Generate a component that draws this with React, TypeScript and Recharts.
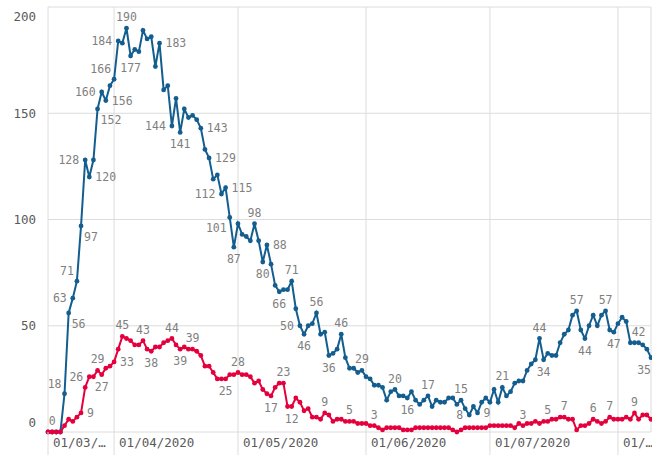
import React from 'react';
import { LineChart, Line, XAxis, YAxis, CartesianGrid } from 'recharts';

// daily series, first day 16/03/2020
const START_DAY = Date.UTC(2020, 2, 16);

const hospitalised = [
  0, 0, 0, 0,
  18, 56, 63, 71, 97, 128, 120, 128, 152, 160, 156, 163,
  166, 184, 183, 190, 177, 180, 179, 189, 185, 186,
  172, 183, 161, 163, 144, 157, 141, 152, 148, 149,
  147, 143, 133, 129, 119, 121, 112, 115, 101, 87,
  98, 93, 92, 90, 98, 90, 80, 88, 79, 69,
  66, 67, 67, 71, 58, 50, 46, 50, 51, 56,
  46, 47, 36, 37, 39, 46, 35, 30, 30, 28,
  29, 26, 25, 22, 22, 21, 15, 19, 20, 17,
  17, 16, 19, 15, 13, 15, 17, 12, 15, 14,
  14, 16, 16, 13, 15, 11, 8, 12, 9, 14,
  16, 14, 20, 14, 21, 17, 19, 23, 24, 24,
  29, 32, 34, 44, 34, 37, 36, 36, 42, 46,
  48, 55, 57, 48, 44, 50, 55, 50, 55, 57,
  48, 47, 51, 54, 52, 42, 42, 42, 41, 39,
  35,
];

const deaths = [
  0, 0, 0, 0,
  3, 6, 5, 7, 9, 21, 26, 26, 29, 27, 30, 31,
  33, 39, 45, 44, 43, 41, 41, 43, 39, 38,
  40, 40, 42, 43, 44, 41, 39, 40, 39, 39,
  38, 36, 31, 31, 28, 25, 25, 25, 27, 27,
  28, 27, 27, 26, 23, 24, 20, 18, 17, 21,
  23, 23, 12, 12, 16, 14, 10, 11, 7, 7,
  6, 9, 8, 5, 6, 6, 5, 5, 5, 4,
  4, 4, 3, 3, 2, 1, 2, 2, 2, 2,
  1, 1, 1, 2, 2, 2, 2, 2, 2, 2,
  2, 2, 1, 0, 1, 2, 2, 2, 2, 2,
  2, 3, 3, 3, 3, 3, 3, 2, 4, 3,
  4, 4, 5, 4, 5, 5, 6, 6, 7, 7,
  6, 6, 1, 3, 3, 4, 6, 5, 4, 5,
  7, 6, 6, 6, 7, 6, 9, 6, 8, 8,
  6,
];

const Y_TICKS = [0, 50, 100, 150, 200];
const MONTH_TICKS = ['16/03/2020', '01/04/2020', '01/05/2020', '01/06/2020', '01/07/2020', '01/08/2020'];
const MONTH_LABELS = ['01/03/…', '01/04/2020', '01/05/2020', '01/06/2020', '01/07/2020', '01/…'];

// which points carry a value label, and where it sits
const hospitalisedLabels: Record<string, string> = {
  '20/03/2020': 'topleft', '21/03/2020': 'bottomright', '22/03/2020': 'left', '23/03/2020': 'topleft',
  '24/03/2020': 'bottomright', '25/03/2020': 'left', '26/03/2020': 'right', '28/03/2020': 'bottomright',
  '29/03/2020': 'left', '30/03/2020': 'right', '01/04/2020': 'topleft', '02/04/2020': 'left',
  '04/04/2020': 'top', '05/04/2020': 'bottom', '12/04/2020': 'right', '15/04/2020': 'left',
  '17/04/2020': 'bottom', '22/04/2020': 'right', '24/04/2020': 'right', '27/04/2020': 'left',
  '28/04/2020': 'right', '29/04/2020': 'bottomleft', '30/04/2020': 'bottom', '05/05/2020': 'top',
  '07/05/2020': 'bottom', '08/05/2020': 'right', '11/05/2020': 'bottom', '14/05/2020': 'top',
  '16/05/2020': 'left', '17/05/2020': 'bottom', '20/05/2020': 'top', '23/05/2020': 'bottom',
  '26/05/2020': 'top', '31/05/2020': 'top', '08/06/2020': 'top', '11/06/2020': 'bottom',
  '16/06/2020': 'top', '24/06/2020': 'top', '26/06/2020': 'left', '28/06/2020': 'right',
  '04/07/2020': 'top', '13/07/2020': 'top', '14/07/2020': 'bottom', '22/07/2020': 'top',
  '24/07/2020': 'bottom', '29/07/2020': 'top', '31/07/2020': 'bottom', '06/08/2020': 'top',
  '09/08/2020': 'bottomend',
};

const deathLabels: Record<string, string> = {
  '17/03/2020': 'top', '24/03/2020': 'right', '26/03/2020': 'left', '28/03/2020': 'top',
  '29/03/2020': 'bottom', '01/04/2020': 'right', '03/04/2020': 'top', '08/04/2020': 'top',
  '10/04/2020': 'bottom', '15/04/2020': 'top', '17/04/2020': 'bottom', '20/04/2020': 'top',
  '28/04/2020': 'bottom', '01/05/2020': 'top', '09/05/2020': 'bottom', '12/05/2020': 'top',
  '14/05/2020': 'bottom', '22/05/2020': 'top', '28/05/2020': 'top', '03/06/2020': 'top',
  '09/07/2020': 'top', '15/07/2020': 'top', '19/07/2020': 'top', '26/07/2020': 'top',
  '30/07/2020': 'top', '05/08/2020': 'top',
};

const BLUE = '#135e8f';
const RED = '#e3003c';
const FONT = '"DejaVu Sans Mono", monospace';

const pad = (n: number) => String(n).padStart(2, '0');
const dates = hospitalised.map((_, i) => {
  const d = new Date(START_DAY + i * 86400000);
  return `${pad(d.getUTCDate())}/${pad(d.getUTCMonth() + 1)}/${d.getUTCFullYear()}`;
});

const data = dates.map((date, i) => ({ date, hospitalised: hospitalised[i], deaths: deaths[i] }));

const OFFSETS: Record<string, { dx: number; dy: number; anchor: 'start' | 'middle' | 'end' }> = {
  top: { dx: 0, dy: -11, anchor: 'middle' },
  bottom: { dx: 0, dy: 12, anchor: 'middle' },
  bottomend: { dx: 0, dy: 12, anchor: 'end' },
  left: { dx: -6, dy: 0, anchor: 'end' },
  right: { dx: 6, dy: 0, anchor: 'start' },
  topleft: { dx: -3, dy: -10, anchor: 'end' },
  bottomright: { dx: 3, dy: 11, anchor: 'start' },
  bottomleft: { dx: -3, dy: 11, anchor: 'end' },
};

const makeLabel = (positions: Record<string, string>) => (props: any) => {
  const { x, y, value, index } = props;
  const pos = positions[dates[index]];
  if (!pos) return null;
  const o = OFFSETS[pos];
  return (
    <text
      key={`lbl-${index}`}
      x={x + o.dx}
      y={y + o.dy}
      dy="0.35em"
      textAnchor={o.anchor}
      fontFamily={FONT}
      fontSize={11.5}
      fill="#7f7f7f"
    >
      {value}
    </text>
  );
};

const XTick = (props: any) => {
  const { x, y, payload } = props;
  const i = MONTH_TICKS.indexOf(payload.value);
  return (
    <g>
      <line x1={x} y1={y} x2={x} y2={y + 23} stroke="#dcdcdc" />
      <text x={x + 5} y={y + 11} dy="0.35em" fontFamily={FONT} fontSize={12.5} fill="#5a5a5a">
        {MONTH_LABELS[i]}
      </text>
    </g>
  );
};

const YTick = (props: any) => {
  const { x, y, payload } = props;
  // top and bottom labels are pushed inside the plot
  let cy = y;
  if (payload.value === 200) cy = y + 8;
  if (payload.value === 0) cy = y - 9;
  return (
    <text x={x} y={cy} dy="0.35em" textAnchor="end" fontFamily={FONT} fontSize={12.5} fill="#5a5a5a">
      {payload.value}
    </text>
  );
};

const App: React.FC = () => {
  return (
    <div style={{ position: 'absolute', left: 0, top: 0, background: '#fff' }}>
      <LineChart width={652} height={455} data={data} margin={{ top: 7, right: 1, bottom: 0, left: 0 }}>
        <CartesianGrid stroke="#dcdcdc" />
        <XAxis
          dataKey="date"
          ticks={MONTH_TICKS}
          interval={0}
          axisLine={false}
          tickLine={false}
          tickSize={0}
          tickMargin={0}
          height={23}
          tick={<XTick />}
        />
        <YAxis
          domain={[0, 200]}
          ticks={Y_TICKS}
          width={48}
          axisLine={false}
          tickLine={false}
          tickSize={0}
          tickMargin={12}
          tick={<YTick />}
        />
        <Line
          dataKey="hospitalised"
          stroke={BLUE}
          strokeWidth={2}
          dot={{ r: 2.4, fill: BLUE, stroke: BLUE, strokeWidth: 0 }}
          activeDot={false}
          isAnimationActive={false}
          label={makeLabel(hospitalisedLabels)}
        />
        <Line
          dataKey="deaths"
          stroke={RED}
          strokeWidth={2}
          dot={{ r: 2.4, fill: RED, stroke: RED, strokeWidth: 0 }}
          activeDot={false}
          isAnimationActive={false}
          label={makeLabel(deathLabels)}
        />
      </LineChart>
    </div>
  );
};

export default App;
